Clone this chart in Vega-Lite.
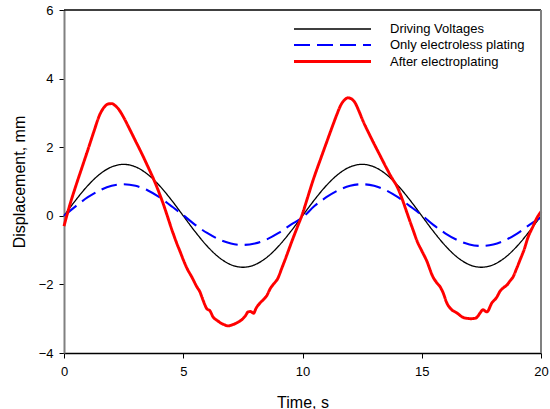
{
  "$schema": "https://vega.github.io/schema/vega-lite/v6.json",
  "width": 477,
  "height": 343,
  "autosize": {"type": "none"},
  "padding": {"left": 64, "top": 10, "right": 9, "bottom": 56},
  "background": "white",
  "config": {
    "view": {"stroke": null},
    "font": "Liberation Sans",
    "axis": {
      "labelFont": "Liberation Sans",
      "titleFont": "Liberation Sans",
      "labelFontSize": 13,
      "titleFontSize": 16,
      "titleFontWeight": "normal",
      "labelColor": "#000000",
      "titleColor": "#000000",
      "tickColor": "#000000",
      "tickSize": 5,
      "labelFlush": false,
      "grid": false
    },
    "legend": {
      "labelFont": "Liberation Sans",
      "labelFontSize": 13,
      "labelColor": "#000000"
    }
  },
  "datasets": {
    "curves": [
      {"t": 0, "v": 0, "s": "Driving Voltages"},
      {"t": 0.5, "v": 0.464, "s": "Driving Voltages"},
      {"t": 1, "v": 0.882, "s": "Driving Voltages"},
      {"t": 1.5, "v": 1.214, "s": "Driving Voltages"},
      {"t": 2, "v": 1.427, "s": "Driving Voltages"},
      {"t": 2.5, "v": 1.5, "s": "Driving Voltages"},
      {"t": 3, "v": 1.427, "s": "Driving Voltages"},
      {"t": 3.5, "v": 1.214, "s": "Driving Voltages"},
      {"t": 4, "v": 0.882, "s": "Driving Voltages"},
      {"t": 4.5, "v": 0.464, "s": "Driving Voltages"},
      {"t": 5, "v": 0, "s": "Driving Voltages"},
      {"t": 5.5, "v": -0.464, "s": "Driving Voltages"},
      {"t": 6, "v": -0.882, "s": "Driving Voltages"},
      {"t": 6.5, "v": -1.214, "s": "Driving Voltages"},
      {"t": 7, "v": -1.427, "s": "Driving Voltages"},
      {"t": 7.5, "v": -1.5, "s": "Driving Voltages"},
      {"t": 8, "v": -1.427, "s": "Driving Voltages"},
      {"t": 8.5, "v": -1.214, "s": "Driving Voltages"},
      {"t": 9, "v": -0.882, "s": "Driving Voltages"},
      {"t": 9.5, "v": -0.464, "s": "Driving Voltages"},
      {"t": 10, "v": 0, "s": "Driving Voltages"},
      {"t": 10.5, "v": 0.464, "s": "Driving Voltages"},
      {"t": 11, "v": 0.882, "s": "Driving Voltages"},
      {"t": 11.5, "v": 1.214, "s": "Driving Voltages"},
      {"t": 12, "v": 1.427, "s": "Driving Voltages"},
      {"t": 12.5, "v": 1.5, "s": "Driving Voltages"},
      {"t": 13, "v": 1.427, "s": "Driving Voltages"},
      {"t": 13.5, "v": 1.214, "s": "Driving Voltages"},
      {"t": 14, "v": 0.882, "s": "Driving Voltages"},
      {"t": 14.5, "v": 0.464, "s": "Driving Voltages"},
      {"t": 15, "v": 0, "s": "Driving Voltages"},
      {"t": 15.5, "v": -0.464, "s": "Driving Voltages"},
      {"t": 16, "v": -0.882, "s": "Driving Voltages"},
      {"t": 16.5, "v": -1.214, "s": "Driving Voltages"},
      {"t": 17, "v": -1.427, "s": "Driving Voltages"},
      {"t": 17.5, "v": -1.5, "s": "Driving Voltages"},
      {"t": 18, "v": -1.427, "s": "Driving Voltages"},
      {"t": 18.5, "v": -1.214, "s": "Driving Voltages"},
      {"t": 19, "v": -0.882, "s": "Driving Voltages"},
      {"t": 19.5, "v": -0.464, "s": "Driving Voltages"},
      {"t": 20, "v": 0, "s": "Driving Voltages"},

      {"t": 0, "v": 0, "s": "Only electroless plating"},
      {"t": 0.5, "v": 0.284, "s": "Only electroless plating"},
      {"t": 1, "v": 0.541, "s": "Only electroless plating"},
      {"t": 1.5, "v": 0.744, "s": "Only electroless plating"},
      {"t": 2, "v": 0.875, "s": "Only electroless plating"},
      {"t": 2.5, "v": 0.92, "s": "Only electroless plating"},
      {"t": 3, "v": 0.875, "s": "Only electroless plating"},
      {"t": 3.5, "v": 0.744, "s": "Only electroless plating"},
      {"t": 4, "v": 0.541, "s": "Only electroless plating"},
      {"t": 4.5, "v": 0.284, "s": "Only electroless plating"},
      {"t": 5, "v": 0.02, "s": "Only electroless plating"},
      {"t": 5.5, "v": -0.263, "s": "Only electroless plating"},
      {"t": 6, "v": -0.5, "s": "Only electroless plating"},
      {"t": 6.5, "v": -0.688, "s": "Only electroless plating"},
      {"t": 7, "v": -0.808, "s": "Only electroless plating"},
      {"t": 7.5, "v": -0.85, "s": "Only electroless plating"},
      {"t": 8, "v": -0.808, "s": "Only electroless plating"},
      {"t": 8.5, "v": -0.688, "s": "Only electroless plating"},
      {"t": 9, "v": -0.5, "s": "Only electroless plating"},
      {"t": 9.5, "v": -0.263, "s": "Only electroless plating"},
      {"t": 10, "v": -0.05, "s": "Only electroless plating"},
      {"t": 10.5, "v": 0.284, "s": "Only electroless plating"},
      {"t": 11, "v": 0.541, "s": "Only electroless plating"},
      {"t": 11.5, "v": 0.744, "s": "Only electroless plating"},
      {"t": 12, "v": 0.875, "s": "Only electroless plating"},
      {"t": 12.5, "v": 0.92, "s": "Only electroless plating"},
      {"t": 13, "v": 0.875, "s": "Only electroless plating"},
      {"t": 13.5, "v": 0.744, "s": "Only electroless plating"},
      {"t": 14, "v": 0.541, "s": "Only electroless plating"},
      {"t": 14.5, "v": 0.284, "s": "Only electroless plating"},
      {"t": 15, "v": 0.02, "s": "Only electroless plating"},
      {"t": 15.5, "v": -0.272, "s": "Only electroless plating"},
      {"t": 16, "v": -0.517, "s": "Only electroless plating"},
      {"t": 16.5, "v": -0.712, "s": "Only electroless plating"},
      {"t": 17, "v": -0.837, "s": "Only electroless plating"},
      {"t": 17.5, "v": -0.88, "s": "Only electroless plating"},
      {"t": 18, "v": -0.837, "s": "Only electroless plating"},
      {"t": 18.5, "v": -0.712, "s": "Only electroless plating"},
      {"t": 19, "v": -0.517, "s": "Only electroless plating"},
      {"t": 19.5, "v": -0.272, "s": "Only electroless plating"},
      {"t": 20, "v": -0.05, "s": "Only electroless plating"},

      {"t": 0, "v": -0.3, "s": "After electroplating"},
      {"t": 0.25, "v": 0.33, "s": "After electroplating"},
      {"t": 0.5, "v": 0.88, "s": "After electroplating"},
      {"t": 0.75, "v": 1.4, "s": "After electroplating"},
      {"t": 1.0, "v": 1.92, "s": "After electroplating"},
      {"t": 1.25, "v": 2.45, "s": "After electroplating"},
      {"t": 1.5, "v": 2.95, "s": "After electroplating"},
      {"t": 1.7, "v": 3.18, "s": "After electroplating"},
      {"t": 1.85, "v": 3.26, "s": "After electroplating"},
      {"t": 2.0, "v": 3.27, "s": "After electroplating"},
      {"t": 2.15, "v": 3.21, "s": "After electroplating"},
      {"t": 2.3, "v": 3.1, "s": "After electroplating"},
      {"t": 2.5, "v": 2.87, "s": "After electroplating"},
      {"t": 2.75, "v": 2.53, "s": "After electroplating"},
      {"t": 3.0, "v": 2.18, "s": "After electroplating"},
      {"t": 3.25, "v": 1.83, "s": "After electroplating"},
      {"t": 3.5, "v": 1.46, "s": "After electroplating"},
      {"t": 3.75, "v": 1.08, "s": "After electroplating"},
      {"t": 4.0, "v": 0.65, "s": "After electroplating"},
      {"t": 4.15, "v": 0.37, "s": "After electroplating"},
      {"t": 4.33, "v": 0.0, "s": "After electroplating"},
      {"t": 4.5, "v": -0.36, "s": "After electroplating"},
      {"t": 4.75, "v": -0.84, "s": "After electroplating"},
      {"t": 4.86, "v": -1.03, "s": "After electroplating"},
      {"t": 5.0, "v": -1.28, "s": "After electroplating"},
      {"t": 5.15, "v": -1.52, "s": "After electroplating"},
      {"t": 5.37, "v": -1.8, "s": "After electroplating"},
      {"t": 5.57, "v": -2.07, "s": "After electroplating"},
      {"t": 5.7, "v": -2.22, "s": "After electroplating"},
      {"t": 5.83, "v": -2.46, "s": "After electroplating"},
      {"t": 5.99, "v": -2.71, "s": "After electroplating"},
      {"t": 6.12, "v": -2.77, "s": "After electroplating"},
      {"t": 6.25, "v": -2.95, "s": "After electroplating"},
      {"t": 6.4, "v": -3.04, "s": "After electroplating"},
      {"t": 6.54, "v": -3.11, "s": "After electroplating"},
      {"t": 6.7, "v": -3.17, "s": "After electroplating"},
      {"t": 6.88, "v": -3.21, "s": "After electroplating"},
      {"t": 7.05, "v": -3.18, "s": "After electroplating"},
      {"t": 7.25, "v": -3.12, "s": "After electroplating"},
      {"t": 7.5, "v": -3.0, "s": "After electroplating"},
      {"t": 7.62, "v": -2.9, "s": "After electroplating"},
      {"t": 7.72, "v": -2.8, "s": "After electroplating"},
      {"t": 7.82, "v": -2.79, "s": "After electroplating"},
      {"t": 7.95, "v": -2.84, "s": "After electroplating"},
      {"t": 8.05, "v": -2.7, "s": "After electroplating"},
      {"t": 8.22, "v": -2.54, "s": "After electroplating"},
      {"t": 8.35, "v": -2.45, "s": "After electroplating"},
      {"t": 8.5, "v": -2.33, "s": "After electroplating"},
      {"t": 8.65, "v": -2.12, "s": "After electroplating"},
      {"t": 8.8, "v": -1.98, "s": "After electroplating"},
      {"t": 8.97, "v": -1.82, "s": "After electroplating"},
      {"t": 9.12, "v": -1.55, "s": "After electroplating"},
      {"t": 9.27, "v": -1.28, "s": "After electroplating"},
      {"t": 9.45, "v": -0.94, "s": "After electroplating"},
      {"t": 9.6, "v": -0.66, "s": "After electroplating"},
      {"t": 9.8, "v": -0.3, "s": "After electroplating"},
      {"t": 10.0, "v": 0.06, "s": "After electroplating"},
      {"t": 10.2, "v": 0.5, "s": "After electroplating"},
      {"t": 10.44, "v": 1.03, "s": "After electroplating"},
      {"t": 10.75, "v": 1.64, "s": "After electroplating"},
      {"t": 11.03, "v": 2.18, "s": "After electroplating"},
      {"t": 11.25, "v": 2.6, "s": "After electroplating"},
      {"t": 11.45, "v": 2.97, "s": "After electroplating"},
      {"t": 11.6, "v": 3.22, "s": "After electroplating"},
      {"t": 11.75, "v": 3.37, "s": "After electroplating"},
      {"t": 11.9, "v": 3.44, "s": "After electroplating"},
      {"t": 12.05, "v": 3.41, "s": "After electroplating"},
      {"t": 12.2, "v": 3.3, "s": "After electroplating"},
      {"t": 12.35, "v": 3.08, "s": "After electroplating"},
      {"t": 12.54, "v": 2.76, "s": "After electroplating"},
      {"t": 12.8, "v": 2.38, "s": "After electroplating"},
      {"t": 13.0, "v": 2.1, "s": "After electroplating"},
      {"t": 13.25, "v": 1.76, "s": "After electroplating"},
      {"t": 13.5, "v": 1.42, "s": "After electroplating"},
      {"t": 13.75, "v": 1.1, "s": "After electroplating"},
      {"t": 13.96, "v": 0.86, "s": "After electroplating"},
      {"t": 14.2, "v": 0.45, "s": "After electroplating"},
      {"t": 14.35, "v": 0.15, "s": "After electroplating"},
      {"t": 14.5, "v": -0.15, "s": "After electroplating"},
      {"t": 14.65, "v": -0.44, "s": "After electroplating"},
      {"t": 14.8, "v": -0.73, "s": "After electroplating"},
      {"t": 15.0, "v": -1.02, "s": "After electroplating"},
      {"t": 15.2, "v": -1.3, "s": "After electroplating"},
      {"t": 15.47, "v": -1.78, "s": "After electroplating"},
      {"t": 15.65, "v": -1.97, "s": "After electroplating"},
      {"t": 15.77, "v": -2.07, "s": "After electroplating"},
      {"t": 15.9, "v": -2.25, "s": "After electroplating"},
      {"t": 16.05, "v": -2.54, "s": "After electroplating"},
      {"t": 16.26, "v": -2.74, "s": "After electroplating"},
      {"t": 16.47, "v": -2.83, "s": "After electroplating"},
      {"t": 16.7, "v": -2.95, "s": "After electroplating"},
      {"t": 16.9, "v": -2.99, "s": "After electroplating"},
      {"t": 17.05, "v": -3.0, "s": "After electroplating"},
      {"t": 17.23, "v": -2.99, "s": "After electroplating"},
      {"t": 17.35, "v": -2.93, "s": "After electroplating"},
      {"t": 17.44, "v": -2.84, "s": "After electroplating"},
      {"t": 17.57, "v": -2.74, "s": "After electroplating"},
      {"t": 17.73, "v": -2.8, "s": "After electroplating"},
      {"t": 17.94, "v": -2.54, "s": "After electroplating"},
      {"t": 18.15, "v": -2.37, "s": "After electroplating"},
      {"t": 18.28, "v": -2.2, "s": "After electroplating"},
      {"t": 18.42, "v": -2.1, "s": "After electroplating"},
      {"t": 18.57, "v": -2.02, "s": "After electroplating"},
      {"t": 18.7, "v": -1.9, "s": "After electroplating"},
      {"t": 18.83, "v": -1.78, "s": "After electroplating"},
      {"t": 18.97, "v": -1.55, "s": "After electroplating"},
      {"t": 19.12, "v": -1.29, "s": "After electroplating"},
      {"t": 19.3, "v": -0.97, "s": "After electroplating"},
      {"t": 19.45, "v": -0.64, "s": "After electroplating"},
      {"t": 19.65, "v": -0.33, "s": "After electroplating"},
      {"t": 19.83, "v": -0.06, "s": "After electroplating"},
      {"t": 20.0, "v": 0.12, "s": "After electroplating"}
    ]
  },
  "layer": [
    {
      "data": {"name": "curves"},
      "mark": {"type": "line", "interpolate": "monotone"},
      "encoding": {
        "x": {
          "field": "t", "type": "quantitative",
          "scale": {"domain": [0, 20], "nice": false},
          "axis": {"values": [0, 5, 10, 15, 20], "title": "Time, s", "domainColor": "#000000", "domainWidth": 1.5, "labelPadding": 7, "titlePadding": 16}
        },
        "y": {
          "field": "v", "type": "quantitative",
          "scale": {"domain": [-4, 6], "nice": false},
          "axis": {"values": [-4, -2, 0, 2, 4, 6], "title": "Displacement, mm", "domainColor": "#808080", "domainWidth": 2, "labelPadding": 6, "titlePadding": 11}
        },
        "color": {
          "field": "s", "type": "nominal",
          "scale": {"domain": ["Driving Voltages", "Only electroless plating", "After electroplating"], "range": ["#000000", "#0000ff", "#ff0000"]},
          "legend": {
            "title": null,
            "orient": "none",
            "legendX": 260,
            "legendY": 11,
            "padding": 0,
            "symbolType": "M-5.5,0H5.5",
            "symbolSize": 196,
            "labelOffset": 49,
            "rowPadding": 0.5
          }
        },
        "strokeDash": {
          "field": "s", "type": "nominal",
          "scale": {"domain": ["Driving Voltages", "Only electroless plating", "After electroplating"], "range": [[1, 0], [16, 7], [1, 0]]}
        },
        "strokeWidth": {
          "field": "s", "type": "nominal",
          "scale": {"domain": ["Driving Voltages", "Only electroless plating", "After electroplating"], "range": [1.3, 2.9, 2.2]}
        }
      }
    },
    {
      "data": {"values": [{}]},
      "mark": {"type": "rule", "color": "#000000", "strokeWidth": 1.5},
      "encoding": {"y": {"datum": 6}}
    },
    {
      "data": {"values": [{}]},
      "mark": {"type": "rule", "color": "#808080", "strokeWidth": 2},
      "encoding": {"x": {"datum": 20}}
    }
  ]
}
